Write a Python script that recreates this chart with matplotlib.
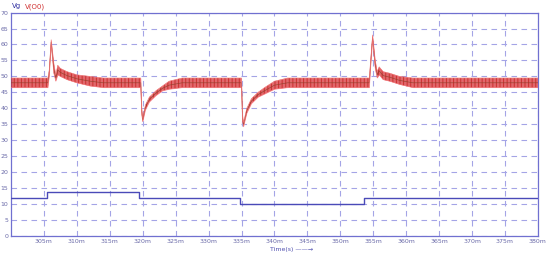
import matplotlib.pyplot as plt
import numpy as np

# Vg step waveform (time in ms, level in V)
vg_t = [300, 305.4, 319.5, 334.8, 353.6, 380]
vg_v = [11.9, 13.8, 11.8, 10.0, 11.8, 11.8]

# V(O0) ripple band: time (ms), upper and lower envelope
vo_t = [300, 305.6, 305.8, 306.1, 306.5, 306.8, 307.1, 307.5, 308.5, 310, 312, 314,
        319.7, 319.85, 320.0, 320.4, 321, 322, 323, 324, 326,
        335.0, 335.15, 335.3, 335.8, 336.5, 337.5, 338.5, 340, 342,
        354.4, 354.6, 354.9, 355.3, 355.6, 355.9, 356.5, 357.5, 359, 361, 380]
vo_hi = [49.5, 49.5, 52.0, 61.5, 54.0, 50.5, 53.5, 52.5, 51.5, 50.5, 50.0, 49.5,
         49.5, 40.0, 37.0, 41.0, 43.5, 45.5, 47.0, 48.5, 49.5,
         49.5, 38.0, 35.5, 40.0, 43.0, 45.0, 46.5, 48.5, 49.5,
         49.5, 55.0, 63.0, 55.0, 51.5, 53.0, 51.5, 51.0, 50.0, 49.5, 49.5]
vo_lo = [46.5, 46.5, 50.0, 60.0, 51.0, 48.5, 50.5, 50.0, 49.0, 48.0, 47.0, 46.5,
         46.5, 38.0, 35.8, 39.5, 42.0, 44.0, 45.5, 46.0, 46.5,
         46.5, 36.0, 34.2, 38.5, 41.5, 43.5, 44.5, 46.0, 46.5,
         46.5, 53.0, 61.5, 52.5, 49.5, 50.5, 49.0, 48.5, 47.5, 46.5, 46.5]

x_ticks = [305, 310, 315, 320, 325, 330, 335, 340, 345, 350, 355, 360, 365, 370, 375, 380]
y_ticks = list(range(0, 75, 5))

frame = '#7070d0'
grid = '#a4a4e6'
label = '#6a6aa8'

plt.rcParams['hatch.linewidth'] = 0.7

fig = plt.figure(figsize=(5.5, 2.57), dpi=100)
ax = fig.add_axes([0.02, 0.082, 0.958, 0.869])

vo_mid = (np.array(vo_hi) + np.array(vo_lo)) / 2
ax.fill_between(vo_t, vo_lo, vo_hi, color='#ffb8c2', lw=0, zorder=2)
ax.fill_between(vo_t, vo_lo, vo_hi, facecolor='none', edgecolor='#cc3030',
                hatch='||||||||||||', lw=0, zorder=3)
ax.plot(vo_t, vo_mid, color='#8a4028', lw=0.5, alpha=0.8, zorder=4)
ax.plot(vo_t, vo_hi, color='#f07070', lw=0.4, zorder=4)
ax.plot(vo_t, vo_lo, color='#f07070', lw=0.4, zorder=4)

ax.step(vg_t, vg_v, where='post', color='#4a4ab8', lw=1.0, zorder=5)

ax.set_xlim(300, 380)
ax.set_ylim(0, 70)
ax.set_xticks(x_ticks)
ax.set_xticklabels([f'{t}m' for t in x_ticks])
ax.set_yticks(y_ticks)
ax.grid(True, color=grid, ls=(0, (5, 4)), lw=0.8)
ax.tick_params(labelsize=4.5, colors=label, length=0, pad=2)
for s in ax.spines.values():
    s.set_color(frame)
    s.set_linewidth(0.9)

fig.text(0.022, 0.975, 'Vg', color='#3030a0', fontsize=5, va='center')
fig.text(0.045, 0.975, 'V(O0)', color='#d03030', fontsize=5, va='center')
fig.text(0.49, 0.028, 'Time(s) \u2014\u2014\u2192', color='#5050b0', fontsize=4.5, va='center')

fig.savefig('out.png', dpi=100)
